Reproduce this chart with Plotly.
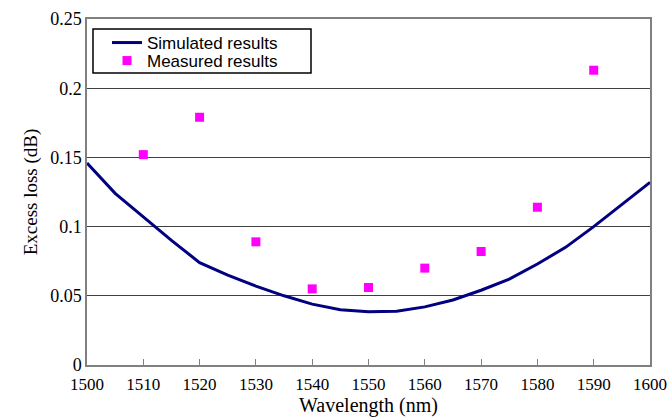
import plotly.graph_objects as go

sim_wavelength = [1500, 1505, 1510, 1515, 1520, 1525, 1530, 1535, 1540, 1545, 1550,
                  1555, 1560, 1565, 1570, 1575, 1580, 1585, 1590, 1595, 1600]
sim_loss = [0.146, 0.124, 0.107, 0.090, 0.074, 0.065, 0.057, 0.050, 0.044, 0.040, 0.0385,
            0.0388, 0.042, 0.047, 0.054, 0.062, 0.073, 0.085, 0.100, 0.116, 0.132]

meas_wavelength = [1510, 1520, 1530, 1540, 1550, 1560, 1570, 1580, 1590]
meas_loss = [0.152, 0.179, 0.089, 0.055, 0.056, 0.070, 0.082, 0.114, 0.213]

x_ticks = [1500, 1510, 1520, 1530, 1540, 1550, 1560, 1570, 1580, 1590, 1600]
y_ticks = [0, 0.05, 0.1, 0.15, 0.2, 0.25]
y_tick_text = ["0", "0.05", "0.1", "0.15", "0.2", "0.25"]

L, R, T, B = 87, 20, 19, 53
W, H = 670, 418
PW, PH = W - L - R, H - T - B

fig = go.Figure()
fig.add_trace(go.Scatter(x=sim_wavelength, y=sim_loss, mode="lines",
                         name="Simulated results", legend="legend",
                         line=dict(color="#000080", width=3)))
fig.add_trace(go.Scatter(x=meas_wavelength, y=meas_loss, mode="markers",
                         name="Measured results", legend="legend2",
                         marker=dict(color="#FF00FF", symbol="square", size=9)))

serif = "Liberation Serif, Times New Roman, serif"
sans = "Liberation Sans, Arial, sans-serif"
leg_common = dict(xanchor="left", yanchor="middle", bgcolor="rgba(0,0,0,0)", borderwidth=0,
                  font=dict(family=sans, size=17, color="black"))
fig.update_layout(
    width=W, height=H,
    margin=dict(l=L, r=R, t=T, b=B),
    paper_bgcolor="white", plot_bgcolor="white",
    showlegend=True,
    legend=dict(x=(107 - L) / PW, y=(H - B - 43) / PH, **leg_common),
    legend2=dict(x=(107 - L) / PW, y=(H - B - 61) / PH, **leg_common),
    shapes=[dict(type="rect", xref="paper", yref="paper",
                 x0=(93 - L) / PW, x1=(311 - L) / PW,
                 y0=(H - B - 73) / PH, y1=(H - B - 29) / PH,
                 line=dict(color="black", width=1.5), fillcolor="white", layer="below")],
)
fig.update_xaxes(range=[1500, 1600], tickvals=x_ticks, ticks="inside", ticklen=6,
                 tickcolor="#808080", showline=True, linecolor="#808080", linewidth=1.5,
                 mirror=True, showgrid=False, zeroline=False, automargin=False,
                 ticklabelstandoff=3,
                 tickfont=dict(family=serif, size=17, color="black"),
                 title=dict(text="Wavelength (nm)", font=dict(family=serif, size=20, color="black"),
                            standoff=4))
fig.update_yaxes(range=[0, 0.25], tickvals=y_ticks, ticktext=y_tick_text, ticks="",
                 showline=True, linecolor="#808080", linewidth=1.5, mirror=True,
                 showgrid=True, gridcolor="#404040", gridwidth=1, zeroline=False,
                 automargin=False,
                 tickfont=dict(family=serif, size=18, color="black"),
                 title=dict(text="Excess loss (dB)", font=dict(family=serif, size=19, color="black"),
                            standoff=8))

fig.write_html("out.html")
